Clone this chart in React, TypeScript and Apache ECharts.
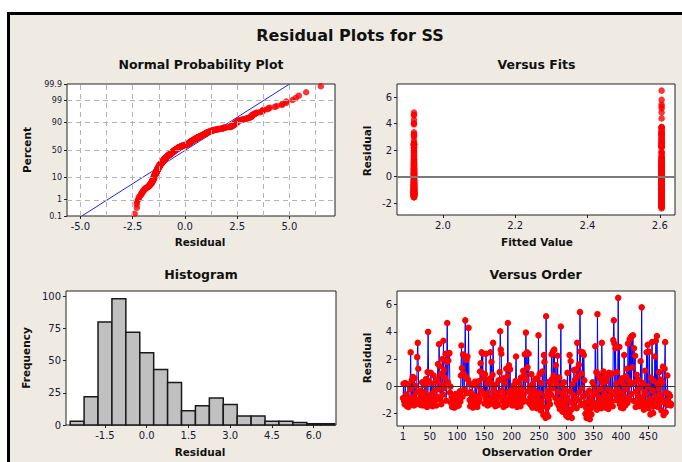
import React, { useEffect, useRef } from "react";
import * as echarts from "echarts";

// ---------- data ----------
// Residuals in observation order (obs 1..492)
const RESIDUALS: number[] = [
  -0.85, 0.2, -1.05, -1.3, 0.25, -1.15, -0.6, -1.45, -1.2, 0.15, -1.5, -0.9, -1.35, -0.2, 2.5, -1.1, 0.45, -1.25, 0.7, -0.75,
  -1.4, 0.6, -1.0, 0.05, -1.3, -0.45, 2.15, 3.2, 1.3, -0.95, -1.2, -0.3, -1.35, -0.55, -1.0, 0.3, -1.4, -0.7, -1.1, -0.4,
  0.1, -1.25, 0.55, -0.85, -1.5, 1.05, 4.0, 0.4, -1.1, -0.65,
  -1.3, 1.0, -0.9, 0.2, -1.45, -0.5, 0.8, -1.15, -0.3, -1.0, 0.35, -1.4, -0.75, 0.5, 1.65, -0.2, 3.1, 1.5, -0.95, 0.9,
  -1.3, 0.15, 2.0, -0.6, 3.35, 1.2, -0.1, 0.65, 2.4, -1.05, 1.8, 4.65, 0.3, 1.9, 2.4, 2.45, -0.45, 0.0, -1.2, -0.8,
  -1.5, -1.1, -1.35, -0.7, -1.55, -1.0, -0.55, -1.25, -0.85, -1.45,
  -1.2, -0.6, -1.4, -0.9, -0.35, -1.1, 0.8, 3.0, 1.35, -0.75, 2.35, 0.95, -0.25, 2.2, 4.85, 0.7, 1.95, -0.5, 2.2, 0.5,
  4.3, 0.25, -1.0, -1.45, -0.4, -1.3, -0.8, 0.1, -1.55, -1.05, -0.65, -1.35, 0.35, -0.9, -1.2, 0.05, -1.5, -0.7, -1.15, 0.4,
  -0.95, 1.1, 1.7, -0.3, 2.5, 1.0, 2.4, -0.55, 0.6, -1.25,
  0.9, -0.8, 2.4, -1.1, 0.2, -1.4, -0.45, -1.0, 0.55, -1.3, 2.5, 0.3, 1.8, -0.85, 0.85, 3.2, -0.15, -1.2, -0.6, -1.45,
  -0.95, 0.15, -1.25, -0.5, -1.35, 0.45, -0.75, 1.05, 4.05, 2.7, 2.4, -0.3, -1.05, 0.6, -1.5, -0.7, -1.15, 0.25, -0.9, 1.3,
  -1.35, 0.75, 4.65, -0.4, 1.55, -1.0, 1.25, -0.65, -1.2, -0.25,
  -1.4, -0.55, -1.1, 0.1, -0.85, -1.3, 0.4, 2.2, -0.2, -1.5, -0.7, -1.0, 0.3, -1.25, -0.45, -1.45, 0.65, -0.9, -0.1, -1.15,
  1.15, -0.6, 0.85, 2.35, -1.05, 3.95, 0.5, 2.5, 1.4, -0.35, 2.4, -1.2, 0.0, -0.8, -1.35, 0.9, -0.5, -1.55, 0.2, -0.95,
  -1.25, -0.3, 0.55, -1.1, -0.65,
  -1.6, 0.6, -0.9, 3.75, -1.35, 0.9, -0.5, -1.75, 0.25, -1.1, 1.1, -1.45, -2.1, 2.3, 1.8, -0.7, -2.3, 5.15, -2.0, -1.55,
  -0.3, -2.2, -1.0, 0.35, -1.3, 0.1, -0.6, 2.35, 0.55, -0.15, 2.6, 0.8, 2.7, 0.4, -0.85, 1.55, 0.2, -1.2, 2.25, -0.4,
  -1.4, 0.65, -1.65, -0.95, 4.4, -1.3, 0.05, -1.85, -0.55, -1.15,
  0.3, -1.9, -0.25, -1.5, -2.15, -0.8, 1.0, -2.25, -1.05, -1.95, 2.3, -0.35, 1.85, -1.7, -2.3, 0.15, -1.25, -0.65, 1.2, -1.45,
  0.5, -0.9, 1.25, -1.6, 3.2, 0.75, -1.0, 1.6, -0.45, 5.45, 2.55, -1.35, 0.95, -0.1, 2.5, -0.75, 2.3, 0.45, -1.2, -2.0,
  -1.55, -2.3, -0.5, -1.8, -2.2, -1.1, -0.3, -2.4, -1.65, -0.85,
  -2.05, -1.4, 0.3, -1.15, -0.6, 0.05, -1.5, 2.95, -0.4, 1.05, -1.7, 5.3, 0.9, -1.25, -0.8, 0.6, -1.45, -0.2, -1.6, 3.2,
  0.25, -1.0, 1.1, -1.35, -0.55, 0.7, -1.55, -0.95, 0.4, -1.2, -0.15, -1.65, 1.0, -0.7, -1.3, 0.85, -0.35, -1.1, 0.95, -1.45,
  3.4, 4.85, 3.15, -0.6, 2.8, 0.2, -1.0, 1.05, -0.25, 6.5,
  -0.85, 2.9, -1.3, 0.35, -1.55, -0.45, 0.6, -1.1, -1.6, 0.1, 2.3, -0.75, -1.4, 0.75, -0.2, 1.3, -1.2, 3.15, 0.45, -0.9,
  3.45, 0.15, 3.6, -0.55, 3.7, 1.4, 3.75, -1.05, 2.8, 0.3, 2.25, -1.5, -0.35, 0.85, -1.25, -0.65, 0.5, -1.45, -0.1, -1.0,
  1.85, 0.05, 5.8, -0.8, -1.35, 0.25, -1.7, -0.4, 1.15, -1.15,
  -0.5, 2.5, -1.3, 3.05, 0.0, -1.6, 2.55, -0.9, -2.05, 0.65, -1.2, 3.25, -0.3, -1.95, 0.4, -1.45, 2.2, -0.7, 3.35, -1.05,
  3.7, 0.2, -1.5, -0.15, 1.05, -1.25, -0.6, 0.5, -1.75, -0.95, 0.3, 1.45, -2.1, -1.1, 1.3, 3.25, -1.9, -0.45, -1.35, 0.8,
  -1.0, -1.35, -0.55, -1.2, -0.7, -1.4, -1.3,
];

// Fitted values: first group of observations, then second group
const FITTED_VALUES = [1.92, 2.605];
const FIRST_GROUP_SIZE = 245;

// Histogram (bin centres, width 0.5) and counts
const BIN_WIDTH = 0.5;
const HIST_CENTERS = [-2.5, -2.0, -1.5, -1.0, -0.5, 0.0, 0.5, 1.0, 1.5, 2.0, 2.5, 3.0, 3.5, 4.0, 4.5, 5.0, 5.5, 6.0, 6.5];
const HIST_COUNTS = [3, 22, 80, 98, 72, 56, 43, 33, 11, 15, 21, 16, 7, 7, 3, 3, 2, 1, 1];

// Tick labels
const PCT_TICKS = [0.1, 1, 10, 50, 90, 99, 99.9];
const PCT_GRID = [1, 10, 50, 90, 99];
const PROB_X_TICKS = [-5, -2.5, 0, 2.5, 5];
const PROB_X_GRID = [-5, -3.75, -2.5, -1.25, 0, 1.25, 2.5, 3.75, 5, 6.25];
const FIT_X_TICKS = [2.0, 2.2, 2.4, 2.6];
const RESID_Y_TICKS = [-2, 0, 2, 4, 6];
const HIST_X_TICKS = [-1.5, 0, 1.5, 3, 4.5, 6];
const HIST_Y_TICKS = [0, 25, 50, 75, 100];
const ORDER_X_TICKS = [1, 50, 100, 150, 200, 250, 300, 350, 400, 450];

// ---------- helpers ----------
function normInv(p: number): number {
  const a = [-3.969683028665376e1, 2.209460984245205e2, -2.759285104469687e2, 1.38357751867269e2, -3.066479806614716e1, 2.506628277459239];
  const b = [-5.447609879822406e1, 1.615858368580409e2, -1.556989798598866e2, 6.680131188771972e1, -1.328068155288572e1];
  const c = [-7.784894002430293e-3, -3.223964580411365e-1, -2.400758277161838, -2.549671010177868, 4.374664141464968, 2.938163982698783];
  const d = [7.784695709041462e-3, 3.224671290700398e-1, 2.445134137142996, 3.754408661907416];
  const pl = 0.02425;
  if (p < pl) {
    const q = Math.sqrt(-2 * Math.log(p));
    return (((((c[0] * q + c[1]) * q + c[2]) * q + c[3]) * q + c[4]) * q + c[5]) / ((((d[0] * q + d[1]) * q + d[2]) * q + d[3]) * q + 1);
  }
  if (p <= 1 - pl) {
    const q = p - 0.5;
    const r = q * q;
    return ((((((a[0] * r + a[1]) * r + a[2]) * r + a[3]) * r + a[4]) * r + a[5]) * q) / (((((b[0] * r + b[1]) * r + b[2]) * r + b[3]) * r + b[4]) * r + 1);
  }
  const q = Math.sqrt(-2 * Math.log(1 - p));
  return -(((((c[0] * q + c[1]) * q + c[2]) * q + c[3]) * q + c[4]) * q + c[5]) / ((((d[0] * q + d[1]) * q + d[2]) * q + d[3]) * q + 1);
}

const FONT = "DejaVu Sans";
const LABEL_COLOR = "#16163a";

function valueAxis(gridIndex: number, min: number, max: number, ticks: number[], fmt: (v: number) => string, fontSize = 10) {
  return {
    type: "value",
    gridIndex,
    min,
    max,
    axisLine: { show: false, onZero: false },
    axisTick: { show: true, customValues: ticks, length: 3, lineStyle: { color: "#222", width: 1 } },
    axisLabel: { customValues: ticks, formatter: fmt, fontFamily: FONT, fontSize, color: LABEL_COLOR, margin: 5 },
    splitLine: { show: false },
  };
}

function text(x: number, y: number, t: string, size: number, rotate = false) {
  return {
    type: "text",
    x,
    y,
    rotation: rotate ? Math.PI / 2 : 0,
    silent: true,
    style: {
      text: t,
      fill: "#111",
      fontFamily: FONT,
      fontWeight: "bold",
      fontSize: size,
      align: "center",
      verticalAlign: "middle",
    },
  };
}

export default function App() {
  const ref = useRef<HTMLDivElement>(null);

  useEffect(() => {
    if (!ref.current) return;
    const chart = echarts.init(ref.current, null, { renderer: "svg" });

    const n = RESIDUALS.length;
    const mean = RESIDUALS.reduce((s, v) => s + v, 0) / n;
    const sd = Math.sqrt(RESIDUALS.reduce((s, v) => s + (v - mean) * (v - mean), 0) / (n - 1));
    const sorted = [...RESIDUALS].sort((a, b) => a - b);
    const probPts = sorted.map((r, i) => [r, normInv((i + 1 - 0.3) / (n + 0.4))]);
    const zMin = normInv(PCT_TICKS[0] / 100);
    const zMax = normInv(PCT_TICKS[PCT_TICKS.length - 1] / 100);
    const fitLine = [
      [mean + sd * zMin, zMin],
      [mean + sd * zMax, zMax],
    ];
    const pctZ = PCT_TICKS.map((p) => normInv(p / 100));
    const pctLabel = (v: number) => {
      let best = 0;
      pctZ.forEach((z, i) => {
        if (Math.abs(z - v) < Math.abs(pctZ[best] - v)) best = i;
      });
      return String(PCT_TICKS[best]);
    };

    const fitsPts = RESIDUALS.map((r, i) => [i < FIRST_GROUP_SIZE ? FITTED_VALUES[0] : FITTED_VALUES[1], r]);
    const orderPts = RESIDUALS.map((r, i) => [i + 1, r]);
    const histData = HIST_CENTERS.map((c, i) => [c, HIST_COUNTS[i]]);

    const f1 = (v: number) => v.toFixed(1);
    const f0 = (v: number) => String(v);

    const gridStyle = { show: true, backgroundColor: "#ffffff", borderColor: "#222", borderWidth: 1 };

    const option: any = {
      animation: false,
      textStyle: { fontFamily: FONT },
      grid: [
        { left: 67, top: 84, width: 268, height: 132, ...gridStyle },
        { left: 397, top: 84, width: 278, height: 131, ...gridStyle },
        { left: 66, top: 291, width: 270, height: 134, ...gridStyle },
        { left: 397, top: 291, width: 278, height: 135, ...gridStyle },
      ],
      xAxis: [
        valueAxis(0, -5.64, 7.18, PROB_X_TICKS, f1),
        valueAxis(1, 1.873, 2.642, FIT_X_TICKS, f1),
        valueAxis(2, -2.9, 6.8, HIST_X_TICKS, f1),
        valueAxis(3, -10, 499, ORDER_X_TICKS, f0),
      ],
      yAxis: [
        valueAxis(0, zMin, zMax, pctZ, pctLabel, 8),
        valueAxis(1, -2.9, 7.0, RESID_Y_TICKS, f0),
        valueAxis(2, 0, 104, HIST_Y_TICKS, f0),
        valueAxis(3, -2.9, 7.0, RESID_Y_TICKS, f0),
      ],
      series: [
        {
          type: "line",
          xAxisIndex: 0,
          yAxisIndex: 0,
          data: fitLine,
          symbol: "none",
          lineStyle: { color: "#2020ff", width: 1 },
          z: 2,
          markLine: {
            silent: true,
            symbol: "none",
            label: { show: false },
            lineStyle: { color: "#b4b4b4", type: [5, 4], width: 1 },
            data: [
              ...PROB_X_GRID.map((x) => ({ xAxis: x })),
              ...PCT_GRID.map((p) => ({ yAxis: normInv(p / 100) })),
            ],
          },
        },
        {
          type: "scatter",
          xAxisIndex: 0,
          yAxisIndex: 0,
          data: probPts,
          symbol: "circle",
          symbolSize: 6.5,
          itemStyle: { color: "#ff0000" },
          z: 3,
        },
        {
          type: "scatter",
          xAxisIndex: 1,
          yAxisIndex: 1,
          data: fitsPts,
          symbol: "circle",
          symbolSize: 6.5,
          itemStyle: { color: "#ff0000" },
          z: 3,
          markLine: {
            silent: true,
            symbol: "none",
            label: { show: false },
            lineStyle: { color: "#7a7a7a", type: "solid", width: 2 },
            data: [{ yAxis: 0 }],
          },
        },
        {
          type: "custom",
          xAxisIndex: 2,
          yAxisIndex: 2,
          data: histData,
          encode: { x: 0, y: 1 },
          renderItem: (_p: any, api: any) => {
            const c = api.value(0);
            const cnt = api.value(1);
            const p0 = api.coord([c - BIN_WIDTH / 2, cnt]);
            const p1 = api.coord([c + BIN_WIDTH / 2, 0]);
            return {
              type: "rect",
              shape: { x: p0[0], y: p0[1], width: p1[0] - p0[0], height: p1[1] - p0[1] },
              style: { fill: "#c0c0c0", stroke: "#1a1a1a", lineWidth: 1.5 },
            };
          },
          z: 2,
        },
        {
          type: "line",
          xAxisIndex: 3,
          yAxisIndex: 3,
          data: orderPts,
          symbol: "circle",
          symbolSize: 6.5,
          showSymbol: true,
          lineStyle: { color: "#0000ff", width: 1 },
          itemStyle: { color: "#ff0000" },
          z: 3,
          markLine: {
            silent: true,
            symbol: "none",
            label: { show: false },
            lineStyle: { color: "#333", type: "solid", width: 1 },
            data: [{ yAxis: 0 }],
          },
        },
      ],
      graphic: [
        text(350, 35, "Residual Plots for SS", 16),
        text(201, 64.5, "Normal Probability Plot", 12.5),
        text(536.5, 64.5, "Versus Fits", 12.5),
        text(201, 274, "Histogram", 12.5),
        text(535.5, 274, "Versus Order", 12.5),
        text(200, 241.5, "Residual", 10.5),
        text(537, 241.7, "Fitted Value", 10.5),
        text(200, 451.7, "Residual", 10.5),
        text(537, 451.7, "Observation Order", 10.5),
        text(27, 150, "Percent", 10.5, true),
        text(367, 151, "Residual", 10.5, true),
        text(26, 358, "Frequency", 10.5, true),
        text(367, 358, "Residual", 10.5, true),
      ],
    };

    chart.setOption(option);
    return () => chart.dispose();
  }, []);

  return (
    <div style={{ position: "absolute", left: 0, top: 0, width: 682, height: 462, background: "#ffffff", overflow: "hidden" }}>
      <div
        style={{
          position: "absolute",
          left: 7,
          top: 12,
          width: 700,
          height: 500,
          background: "#efebe2",
          border: "3px solid #000",
          boxSizing: "border-box",
        }}
      />
      <div ref={ref} style={{ position: "absolute", left: 0, top: 0, width: 682, height: 462 }} />
    </div>
  );
}
